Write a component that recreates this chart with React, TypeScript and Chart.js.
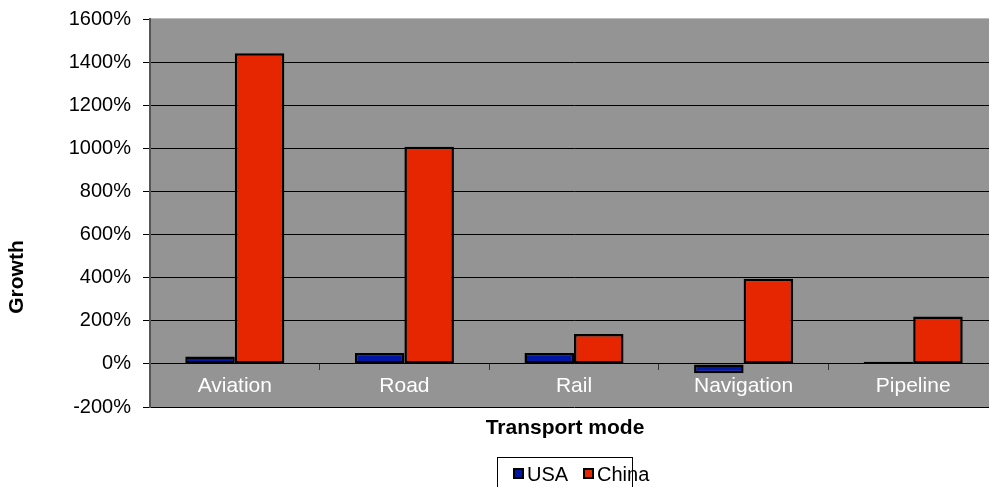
import React, { useEffect, useRef } from "react";
import { Chart, registerables } from "chart.js";

Chart.register(...registerables);

// Growth of freight transport by mode
const categories = ["Aviation", "Road", "Rail", "Navigation", "Pipeline"];
const usaGrowth = [34, 51, 51, -44, 10];
const chinaGrowth = [1441, 1007, 139, 395, 220];
const seriesNames = ["USA", "China"];
const seriesColors = ["#0017A5", "#E52600"];
const yTicks = [-200, 0, 200, 400, 600, 800, 1000, 1200, 1400, 1600];

const FONT = "'Liberation Sans', Arial, sans-serif";

const plotBackground = {
  id: "plotBackground",
  beforeDraw(chart: any) {
    const { ctx, chartArea } = chart;
    ctx.save();
    ctx.fillStyle = "#949494";
    ctx.fillRect(chartArea.left, chartArea.top, chartArea.right - chartArea.left, chartArea.bottom - chartArea.top);
    ctx.strokeStyle = "#BDBDBD";
    ctx.lineWidth = 1;
    ctx.beginPath();
    ctx.moveTo(chartArea.left, chartArea.top - 0.5);
    ctx.lineTo(chartArea.right, chartArea.top - 0.5);
    ctx.stroke();
    ctx.restore();
  },
};

// Axis titles and the boxed legend below the plot
const annotations = {
  id: "annotations",
  afterDraw(chart: any) {
    const { ctx, chartArea } = chart;
    const centerX = 565;
    ctx.save();
    ctx.fillStyle = "#000";
    ctx.font = `bold 21px ${FONT}`;
    ctx.textAlign = "center";
    ctx.textBaseline = "middle";
    ctx.fillText("Transport mode", centerX, chartArea.bottom + 21);

    ctx.save();
    ctx.translate(17, 277);
    ctx.rotate(-Math.PI / 2);
    ctx.fillText("Growth", 0, 0);
    ctx.restore();

    // legend
    const boxW = 135;
    const left = Math.round(centerX - boxW / 2) - 0.5;
    const top = 457.5;
    ctx.strokeStyle = "#000";
    ctx.lineWidth = 1;
    ctx.strokeRect(left, top, boxW, 40);
    ctx.font = `20px ${FONT}`;
    ctx.textAlign = "left";
    ctx.textBaseline = "alphabetic";
    const itemX = [left + 15, left + 85];
    seriesNames.forEach((name, i) => {
      const x = Math.round(itemX[i]);
      ctx.fillStyle = "#000";
      ctx.fillRect(x, 468, 11, 11);
      ctx.fillStyle = seriesColors[i];
      ctx.fillRect(x + 2, 470, 7, 7);
      ctx.fillStyle = "#000";
      ctx.fillText(name, x + 14, 481);
    });
    ctx.restore();
  },
};

export default function App() {
  const canvasRef = useRef<HTMLCanvasElement | null>(null);

  useEffect(() => {
    if (!canvasRef.current) return;
    const chart = new Chart(canvasRef.current, {
      type: "bar",
      data: {
        labels: categories,
        datasets: [
          {
            label: seriesNames[0],
            data: usaGrowth,
            backgroundColor: seriesColors[0],
            borderColor: "#000",
            borderWidth: 2.5,
            borderSkipped: false,
          },
          {
            label: seriesNames[1],
            data: chinaGrowth,
            backgroundColor: seriesColors[1],
            borderColor: "#000",
            borderWidth: 2.5,
            borderSkipped: false,
          },
        ],
      },
      options: {
        responsive: false,
        animation: false,
        layout: { padding: { top: 19, bottom: 80, left: 0, right: 0 } },
        plugins: {
          legend: { display: false },
          tooltip: { enabled: false },
        },
        datasets: {
          bar: { categoryPercentage: 0.584, barPercentage: 1 },
        },
        scales: {
          x: {
            position: { y: 0 } as any,
            grid: {
              drawOnChartArea: false,
              drawTicks: true,
              tickLength: 6,
              tickColor: "#333",
              offset: true,
            },
            border: { display: false },
            ticks: {
              color: "#FFFFFF",
              font: { family: FONT, size: 21 },
              padding: 4,
            },
          },
          y: {
            min: -200,
            max: 1600,
            afterBuildTicks(scale: any) {
              scale.ticks = yTicks.map((v) => ({ value: v }));
            },
            afterFit(scale: any) {
              scale.width = 150;
              scale.paddingTop = 0;
              scale.paddingBottom = 0;
            },
            grid: {
              color: (c: any) => (c.tick && c.tick.value === 1600 ? "rgba(0,0,0,0)" : "#000"),
              tickColor: "#000",
              tickLength: 7,
              lineWidth: 1,
            },
            border: { color: "#555", width: 2 },
            ticks: {
              color: "#000",
              font: { family: FONT, size: 20 },
              padding: 12,
              callback: (v: any) => `${v}%`,
            },
          },
        },
      },
      plugins: [plotBackground, annotations],
    });
    return () => chart.destroy();
  }, []);

  return (
    <div
      style={{
        position: "fixed",
        left: 0,
        top: 0,
        width: 989,
        height: 487,
        overflow: "hidden",
        background: "#fff",
      }}
    >
      <canvas ref={canvasRef} width={998} height={487} style={{ display: "block" }} />
    </div>
  );
}
